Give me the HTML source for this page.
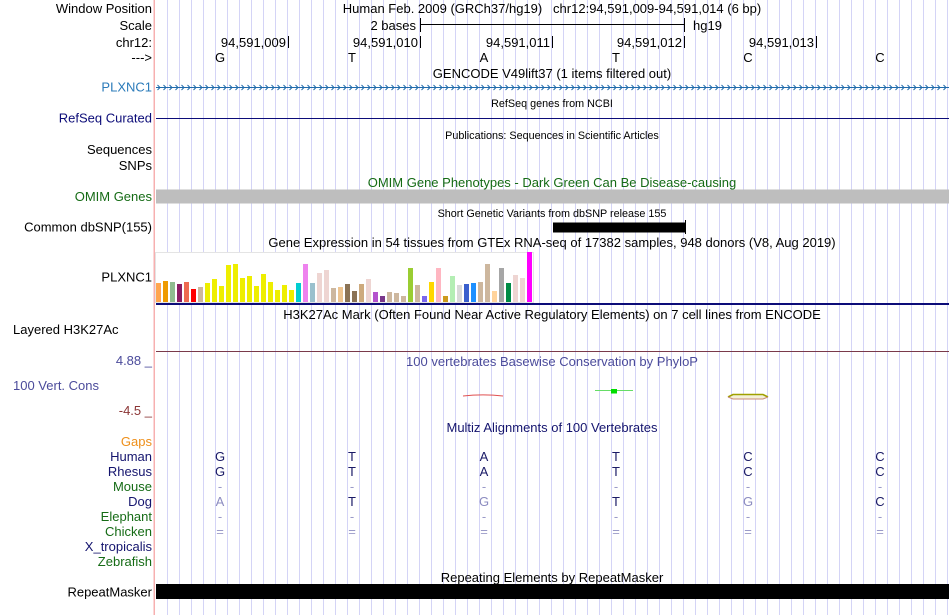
<!DOCTYPE html>
<html><head><meta charset="utf-8"><style>
html,body{margin:0;padding:0;background:#fff;}
svg{display:block;}
text{font-family:"Liberation Sans",Arial,Helvetica,sans-serif;font-size:13px;fill:#000;}
.s{font-size:10.8px;}
.c{text-anchor:middle;}
.r{text-anchor:end;}
</style></head><body>
<svg xmlns="http://www.w3.org/2000/svg" width="950" height="615" viewBox="0 0 950 615">
<rect x="0" y="0" width="950" height="615" fill="#fff"/>
<!-- grid lines -->
<g stroke="#d4d4f6" stroke-width="1">
<line x1="167.5" y1="0" x2="167.5" y2="615"/><line x1="179.5" y1="0" x2="179.5" y2="615"/><line x1="191.5" y1="0" x2="191.5" y2="615"/><line x1="203.5" y1="0" x2="203.5" y2="615"/><line x1="215.5" y1="0" x2="215.5" y2="615"/><line x1="227.5" y1="0" x2="227.5" y2="615"/><line x1="239.5" y1="0" x2="239.5" y2="615"/><line x1="251.5" y1="0" x2="251.5" y2="615"/><line x1="263.5" y1="0" x2="263.5" y2="615"/><line x1="275.5" y1="0" x2="275.5" y2="615"/><line x1="287.5" y1="0" x2="287.5" y2="615"/><line x1="299.5" y1="0" x2="299.5" y2="615"/><line x1="311.5" y1="0" x2="311.5" y2="615"/><line x1="323.5" y1="0" x2="323.5" y2="615"/><line x1="335.5" y1="0" x2="335.5" y2="615"/><line x1="347.5" y1="0" x2="347.5" y2="615"/><line x1="359.5" y1="0" x2="359.5" y2="615"/><line x1="371.5" y1="0" x2="371.5" y2="615"/><line x1="383.5" y1="0" x2="383.5" y2="615"/><line x1="395.5" y1="0" x2="395.5" y2="615"/><line x1="407.5" y1="0" x2="407.5" y2="615"/><line x1="419.5" y1="0" x2="419.5" y2="615"/><line x1="431.5" y1="0" x2="431.5" y2="615"/><line x1="443.5" y1="0" x2="443.5" y2="615"/><line x1="455.5" y1="0" x2="455.5" y2="615"/><line x1="467.5" y1="0" x2="467.5" y2="615"/><line x1="479.5" y1="0" x2="479.5" y2="615"/><line x1="491.5" y1="0" x2="491.5" y2="615"/><line x1="503.5" y1="0" x2="503.5" y2="615"/><line x1="515.5" y1="0" x2="515.5" y2="615"/><line x1="527.5" y1="0" x2="527.5" y2="615"/><line x1="539.5" y1="0" x2="539.5" y2="615"/><line x1="551.5" y1="0" x2="551.5" y2="615"/><line x1="563.5" y1="0" x2="563.5" y2="615"/><line x1="575.5" y1="0" x2="575.5" y2="615"/><line x1="587.5" y1="0" x2="587.5" y2="615"/><line x1="599.5" y1="0" x2="599.5" y2="615"/><line x1="611.5" y1="0" x2="611.5" y2="615"/><line x1="623.5" y1="0" x2="623.5" y2="615"/><line x1="635.5" y1="0" x2="635.5" y2="615"/><line x1="647.5" y1="0" x2="647.5" y2="615"/><line x1="659.5" y1="0" x2="659.5" y2="615"/><line x1="671.5" y1="0" x2="671.5" y2="615"/><line x1="683.5" y1="0" x2="683.5" y2="615"/><line x1="695.5" y1="0" x2="695.5" y2="615"/><line x1="707.5" y1="0" x2="707.5" y2="615"/><line x1="719.5" y1="0" x2="719.5" y2="615"/><line x1="731.5" y1="0" x2="731.5" y2="615"/><line x1="743.5" y1="0" x2="743.5" y2="615"/><line x1="755.5" y1="0" x2="755.5" y2="615"/><line x1="767.5" y1="0" x2="767.5" y2="615"/><line x1="779.5" y1="0" x2="779.5" y2="615"/><line x1="791.5" y1="0" x2="791.5" y2="615"/><line x1="803.5" y1="0" x2="803.5" y2="615"/><line x1="815.5" y1="0" x2="815.5" y2="615"/><line x1="827.5" y1="0" x2="827.5" y2="615"/><line x1="839.5" y1="0" x2="839.5" y2="615"/><line x1="851.5" y1="0" x2="851.5" y2="615"/><line x1="863.5" y1="0" x2="863.5" y2="615"/><line x1="875.5" y1="0" x2="875.5" y2="615"/><line x1="887.5" y1="0" x2="887.5" y2="615"/><line x1="899.5" y1="0" x2="899.5" y2="615"/><line x1="911.5" y1="0" x2="911.5" y2="615"/><line x1="923.5" y1="0" x2="923.5" y2="615"/><line x1="935.5" y1="0" x2="935.5" y2="615"/><line x1="947.5" y1="0" x2="947.5" y2="615"/>
</g>
<!-- left pink divider -->
<rect x="153.5" y="0" width="1.5" height="615" fill="#f7b0b0"/>

<!-- Row: header -->
<text class="r" x="152" y="13">Window Position</text>
<text class="c" x="552" y="13" xml:space="preserve">Human Feb. 2009 (GRCh37/hg19)   chr12:94,591,009-94,591,014 (6 bp)</text>
<text class="r" x="152" y="30">Scale</text>
<text class="r" x="416" y="30">2 bases</text>
<line x1="420" y1="24.5" x2="685" y2="24.5" stroke="#000" stroke-width="1"/>
<line x1="420.5" y1="18" x2="420.5" y2="32" stroke="#000" stroke-width="1"/>
<line x1="684.5" y1="18" x2="684.5" y2="32" stroke="#000" stroke-width="1"/>
<text x="693" y="30">hg19</text>
<text class="r" x="152" y="47">chr12:</text>
<text class="r" x="286" y="47">94,591,009</text>
<text class="r" x="418" y="47">94,591,010</text>
<text class="r" x="550" y="47">94,591,011</text>
<text class="r" x="682" y="47">94,591,012</text>
<text class="r" x="814" y="47">94,591,013</text>
<g stroke="#000" stroke-width="1">
<line x1="288.5" y1="36" x2="288.5" y2="48"/>
<line x1="420.5" y1="36" x2="420.5" y2="48"/>
<line x1="552.5" y1="36" x2="552.5" y2="48"/>
<line x1="684.5" y1="36" x2="684.5" y2="48"/>
<line x1="816.5" y1="36" x2="816.5" y2="48"/>
</g>
<text class="r" x="152" y="62">---&gt;</text>
<text class="c" x="220" y="62">G</text>
<text class="c" x="352" y="62">T</text>
<text class="c" x="484" y="62">A</text>
<text class="c" x="616" y="62">T</text>
<text class="c" x="748" y="62">C</text>
<text class="c" x="880" y="62">C</text>

<!-- GENCODE -->
<text class="c" x="552" y="78">GENCODE V49lift37 (1 items filtered out)</text>
<text class="r" x="152" y="91.5" style="fill:#2b7bba">PLXNC1</text>
<line x1="156" y1="87.5" x2="949" y2="87.5" stroke="#1f6aab" stroke-width="1"/>
<path fill="none" stroke="#1f6aab" stroke-width="1" d="M157.5,85 l2.5,2.5 l-2.5,2.5 M163.5,85 l2.5,2.5 l-2.5,2.5 M169.5,85 l2.5,2.5 l-2.5,2.5 M175.5,85 l2.5,2.5 l-2.5,2.5 M181.5,85 l2.5,2.5 l-2.5,2.5 M187.5,85 l2.5,2.5 l-2.5,2.5 M193.5,85 l2.5,2.5 l-2.5,2.5 M199.5,85 l2.5,2.5 l-2.5,2.5 M205.5,85 l2.5,2.5 l-2.5,2.5 M211.5,85 l2.5,2.5 l-2.5,2.5 M217.5,85 l2.5,2.5 l-2.5,2.5 M223.5,85 l2.5,2.5 l-2.5,2.5 M229.5,85 l2.5,2.5 l-2.5,2.5 M235.5,85 l2.5,2.5 l-2.5,2.5 M241.5,85 l2.5,2.5 l-2.5,2.5 M247.5,85 l2.5,2.5 l-2.5,2.5 M253.5,85 l2.5,2.5 l-2.5,2.5 M259.5,85 l2.5,2.5 l-2.5,2.5 M265.5,85 l2.5,2.5 l-2.5,2.5 M271.5,85 l2.5,2.5 l-2.5,2.5 M277.5,85 l2.5,2.5 l-2.5,2.5 M283.5,85 l2.5,2.5 l-2.5,2.5 M289.5,85 l2.5,2.5 l-2.5,2.5 M295.5,85 l2.5,2.5 l-2.5,2.5 M301.5,85 l2.5,2.5 l-2.5,2.5 M307.5,85 l2.5,2.5 l-2.5,2.5 M313.5,85 l2.5,2.5 l-2.5,2.5 M319.5,85 l2.5,2.5 l-2.5,2.5 M325.5,85 l2.5,2.5 l-2.5,2.5 M331.5,85 l2.5,2.5 l-2.5,2.5 M337.5,85 l2.5,2.5 l-2.5,2.5 M343.5,85 l2.5,2.5 l-2.5,2.5 M349.5,85 l2.5,2.5 l-2.5,2.5 M355.5,85 l2.5,2.5 l-2.5,2.5 M361.5,85 l2.5,2.5 l-2.5,2.5 M367.5,85 l2.5,2.5 l-2.5,2.5 M373.5,85 l2.5,2.5 l-2.5,2.5 M379.5,85 l2.5,2.5 l-2.5,2.5 M385.5,85 l2.5,2.5 l-2.5,2.5 M391.5,85 l2.5,2.5 l-2.5,2.5 M397.5,85 l2.5,2.5 l-2.5,2.5 M403.5,85 l2.5,2.5 l-2.5,2.5 M409.5,85 l2.5,2.5 l-2.5,2.5 M415.5,85 l2.5,2.5 l-2.5,2.5 M421.5,85 l2.5,2.5 l-2.5,2.5 M427.5,85 l2.5,2.5 l-2.5,2.5 M433.5,85 l2.5,2.5 l-2.5,2.5 M439.5,85 l2.5,2.5 l-2.5,2.5 M445.5,85 l2.5,2.5 l-2.5,2.5 M451.5,85 l2.5,2.5 l-2.5,2.5 M457.5,85 l2.5,2.5 l-2.5,2.5 M463.5,85 l2.5,2.5 l-2.5,2.5 M469.5,85 l2.5,2.5 l-2.5,2.5 M475.5,85 l2.5,2.5 l-2.5,2.5 M481.5,85 l2.5,2.5 l-2.5,2.5 M487.5,85 l2.5,2.5 l-2.5,2.5 M493.5,85 l2.5,2.5 l-2.5,2.5 M499.5,85 l2.5,2.5 l-2.5,2.5 M505.5,85 l2.5,2.5 l-2.5,2.5 M511.5,85 l2.5,2.5 l-2.5,2.5 M517.5,85 l2.5,2.5 l-2.5,2.5 M523.5,85 l2.5,2.5 l-2.5,2.5 M529.5,85 l2.5,2.5 l-2.5,2.5 M535.5,85 l2.5,2.5 l-2.5,2.5 M541.5,85 l2.5,2.5 l-2.5,2.5 M547.5,85 l2.5,2.5 l-2.5,2.5 M553.5,85 l2.5,2.5 l-2.5,2.5 M559.5,85 l2.5,2.5 l-2.5,2.5 M565.5,85 l2.5,2.5 l-2.5,2.5 M571.5,85 l2.5,2.5 l-2.5,2.5 M577.5,85 l2.5,2.5 l-2.5,2.5 M583.5,85 l2.5,2.5 l-2.5,2.5 M589.5,85 l2.5,2.5 l-2.5,2.5 M595.5,85 l2.5,2.5 l-2.5,2.5 M601.5,85 l2.5,2.5 l-2.5,2.5 M607.5,85 l2.5,2.5 l-2.5,2.5 M613.5,85 l2.5,2.5 l-2.5,2.5 M619.5,85 l2.5,2.5 l-2.5,2.5 M625.5,85 l2.5,2.5 l-2.5,2.5 M631.5,85 l2.5,2.5 l-2.5,2.5 M637.5,85 l2.5,2.5 l-2.5,2.5 M643.5,85 l2.5,2.5 l-2.5,2.5 M649.5,85 l2.5,2.5 l-2.5,2.5 M655.5,85 l2.5,2.5 l-2.5,2.5 M661.5,85 l2.5,2.5 l-2.5,2.5 M667.5,85 l2.5,2.5 l-2.5,2.5 M673.5,85 l2.5,2.5 l-2.5,2.5 M679.5,85 l2.5,2.5 l-2.5,2.5 M685.5,85 l2.5,2.5 l-2.5,2.5 M691.5,85 l2.5,2.5 l-2.5,2.5 M697.5,85 l2.5,2.5 l-2.5,2.5 M703.5,85 l2.5,2.5 l-2.5,2.5 M709.5,85 l2.5,2.5 l-2.5,2.5 M715.5,85 l2.5,2.5 l-2.5,2.5 M721.5,85 l2.5,2.5 l-2.5,2.5 M727.5,85 l2.5,2.5 l-2.5,2.5 M733.5,85 l2.5,2.5 l-2.5,2.5 M739.5,85 l2.5,2.5 l-2.5,2.5 M745.5,85 l2.5,2.5 l-2.5,2.5 M751.5,85 l2.5,2.5 l-2.5,2.5 M757.5,85 l2.5,2.5 l-2.5,2.5 M763.5,85 l2.5,2.5 l-2.5,2.5 M769.5,85 l2.5,2.5 l-2.5,2.5 M775.5,85 l2.5,2.5 l-2.5,2.5 M781.5,85 l2.5,2.5 l-2.5,2.5 M787.5,85 l2.5,2.5 l-2.5,2.5 M793.5,85 l2.5,2.5 l-2.5,2.5 M799.5,85 l2.5,2.5 l-2.5,2.5 M805.5,85 l2.5,2.5 l-2.5,2.5 M811.5,85 l2.5,2.5 l-2.5,2.5 M817.5,85 l2.5,2.5 l-2.5,2.5 M823.5,85 l2.5,2.5 l-2.5,2.5 M829.5,85 l2.5,2.5 l-2.5,2.5 M835.5,85 l2.5,2.5 l-2.5,2.5 M841.5,85 l2.5,2.5 l-2.5,2.5 M847.5,85 l2.5,2.5 l-2.5,2.5 M853.5,85 l2.5,2.5 l-2.5,2.5 M859.5,85 l2.5,2.5 l-2.5,2.5 M865.5,85 l2.5,2.5 l-2.5,2.5 M871.5,85 l2.5,2.5 l-2.5,2.5 M877.5,85 l2.5,2.5 l-2.5,2.5 M883.5,85 l2.5,2.5 l-2.5,2.5 M889.5,85 l2.5,2.5 l-2.5,2.5 M895.5,85 l2.5,2.5 l-2.5,2.5 M901.5,85 l2.5,2.5 l-2.5,2.5 M907.5,85 l2.5,2.5 l-2.5,2.5 M913.5,85 l2.5,2.5 l-2.5,2.5 M919.5,85 l2.5,2.5 l-2.5,2.5 M925.5,85 l2.5,2.5 l-2.5,2.5 M931.5,85 l2.5,2.5 l-2.5,2.5 M937.5,85 l2.5,2.5 l-2.5,2.5 M943.5,85 l2.5,2.5 l-2.5,2.5"/>

<!-- RefSeq -->
<text class="c s" x="552" y="107">RefSeq genes from NCBI</text>
<text class="r" x="152" y="122.5" style="fill:#0c0c78">RefSeq Curated</text>
<line x1="156" y1="118.5" x2="949" y2="118.5" stroke="#0c0c78" stroke-width="1"/>

<!-- Publications -->
<text class="c s" x="552" y="139">Publications: Sequences in Scientific Articles</text>
<text class="r" x="152" y="154">Sequences</text>
<text class="r" x="152" y="170">SNPs</text>

<!-- OMIM -->
<text class="c" x="552" y="187" style="fill:#156b15">OMIM Gene Phenotypes - Dark Green Can Be Disease-causing</text>
<text class="r" x="152" y="201" style="fill:#156b15">OMIM Genes</text>
<rect x="156" y="189.5" width="793" height="14" fill="#bebebe"/>

<!-- dbSNP -->
<text class="c s" x="552" y="217">Short Genetic Variants from dbSNP release 155</text>
<text class="r" x="152" y="231.5">Common dbSNP(155)</text>
<rect x="553" y="222.5" width="132" height="10" fill="#000"/>
<rect x="685" y="220" width="1" height="14" fill="#000"/>

<!-- GTEx -->
<text class="c" x="552" y="247">Gene Expression in 54 tissues from GTEx RNA-seq of 17382 samples, 948 donors (V8, Aug 2019)</text>
<text class="r" x="152" y="281.5">PLXNC1</text>
<rect x="155.5" y="252.5" width="378" height="50" fill="#fff" stroke="#e4e4e4" stroke-width="1"/>
<g>
<rect x="156" y="283" width="5" height="19" fill="#FFA54F"/>
<rect x="163" y="281" width="5" height="21" fill="#EE9A00"/>
<rect x="170" y="282" width="5" height="20" fill="#8FBC8F"/>
<rect x="177" y="284" width="5" height="18" fill="#8B1C62"/>
<rect x="184" y="282" width="5" height="20" fill="#EE6A50"/>
<rect x="191" y="289" width="5" height="13" fill="#FF0000"/>
<rect x="198" y="287" width="5" height="15" fill="#CDB79E"/>
<rect x="205" y="283" width="5" height="19" fill="#EEEE00"/>
<rect x="212" y="279" width="5" height="23" fill="#EEEE00"/>
<rect x="219" y="286" width="5" height="16" fill="#EEEE00"/>
<rect x="226" y="265" width="5" height="37" fill="#EEEE00"/>
<rect x="233" y="264" width="5" height="38" fill="#EEEE00"/>
<rect x="240" y="278" width="5" height="24" fill="#EEEE00"/>
<rect x="247" y="276" width="5" height="26" fill="#EEEE00"/>
<rect x="254" y="286" width="5" height="16" fill="#EEEE00"/>
<rect x="261" y="274" width="5" height="28" fill="#EEEE00"/>
<rect x="268" y="282" width="5" height="20" fill="#EEEE00"/>
<rect x="275" y="290" width="5" height="12" fill="#EEEE00"/>
<rect x="282" y="285" width="5" height="17" fill="#EEEE00"/>
<rect x="289" y="290" width="5" height="12" fill="#EEEE00"/>
<rect x="296" y="283" width="5" height="19" fill="#00CED1"/>
<rect x="303" y="264" width="5" height="38" fill="#EE82EE"/>
<rect x="310" y="283" width="5" height="19" fill="#9AC0CD"/>
<rect x="317" y="273" width="5" height="29" fill="#EED5D2"/>
<rect x="324" y="270" width="5" height="32" fill="#EED5D2"/>
<rect x="331" y="288" width="5" height="14" fill="#CDB79E"/>
<rect x="338" y="287" width="5" height="15" fill="#EEC591"/>
<rect x="345" y="284" width="5" height="18" fill="#8B7355"/>
<rect x="352" y="291" width="5" height="11" fill="#8B7355"/>
<rect x="359" y="284" width="5" height="18" fill="#CDAA7D"/>
<rect x="366" y="279" width="5" height="23" fill="#EED5D2"/>
<rect x="373" y="292" width="5" height="10" fill="#B452CD"/>
<rect x="380" y="296" width="5" height="6" fill="#7A378B"/>
<rect x="387" y="292" width="5" height="10" fill="#CDB79E"/>
<rect x="394" y="293" width="5" height="9" fill="#CDB79E"/>
<rect x="401" y="296" width="5" height="6" fill="#CDB79E"/>
<rect x="408" y="268" width="5" height="34" fill="#9ACD32"/>
<rect x="415" y="285" width="5" height="17" fill="#CDB79E"/>
<rect x="422" y="296" width="5" height="6" fill="#7A67EE"/>
<rect x="429" y="282" width="5" height="20" fill="#FFD700"/>
<rect x="436" y="268" width="5" height="34" fill="#FFB6C1"/>
<rect x="443" y="296" width="5" height="6" fill="#CD9B1D"/>
<rect x="450" y="276" width="5" height="26" fill="#B4EEB4"/>
<rect x="457" y="285" width="5" height="17" fill="#D9D9D9"/>
<rect x="464" y="284" width="5" height="18" fill="#3A5FCD"/>
<rect x="471" y="283" width="5" height="19" fill="#1E90FF"/>
<rect x="478" y="282" width="5" height="20" fill="#CDB79E"/>
<rect x="485" y="264" width="5" height="38" fill="#CDB79E"/>
<rect x="492" y="291" width="5" height="11" fill="#FFD39B"/>
<rect x="499" y="268" width="5" height="34" fill="#A6A6A6"/>
<rect x="506" y="283" width="5" height="19" fill="#008B45"/>
<rect x="513" y="275" width="5" height="27" fill="#EED5D2"/>
<rect x="520" y="278" width="5" height="24" fill="#EED5D2"/>
<rect x="527" y="252" width="5" height="50" fill="#FF00FF"/>
</g>
<rect x="156" y="303" width="793" height="2" fill="#0c0c78"/>

<!-- H3K27Ac -->
<text class="c" x="552" y="319">H3K27Ac Mark (Often Found Near Active Regulatory Elements) on 7 cell lines from ENCODE</text>
<text x="13" y="334">Layered H3K27Ac</text>
<line x1="156" y1="351.5" x2="949" y2="351.5" stroke="#7a3a4a" stroke-width="1"/>

<!-- PhyloP -->
<text class="c" x="552" y="366" style="fill:#4b4b9b">100 vertebrates Basewise Conservation by PhyloP</text>
<text class="r" x="152" y="365" style="fill:#4b4b9b">4.88 _</text>
<text x="13" y="390" style="fill:#4b4b9b">100 Vert. Cons</text>
<text class="r" x="152" y="415" style="fill:#8b3535">-4.5 _</text>
<path d="M463,396 Q483,393.8 503,396" fill="none" stroke="#e05050" stroke-width="1"/>
<line x1="595" y1="390.5" x2="633" y2="390.5" stroke="#66dd66" stroke-width="1"/>
<rect x="611" y="389" width="6" height="4.5" fill="#00dd00"/>
<polygon points="728,397 733,394.5 763,394.5 768,397 763,399 733,399" fill="#f4f0d8" stroke="none"/>
<polyline points="728,397 733,394.5 763,394.5 768,397" fill="none" stroke="#a0a000" stroke-width="1.6"/>
<polyline points="728,397 733,399 763,399 768,397" fill="none" stroke="#c88a7a" stroke-width="1"/>

<!-- Multiz -->
<text class="c" x="552" y="432" style="fill:#14146e">Multiz Alignments of 100 Vertebrates</text>
<text class="r" x="152" y="446" style="fill:#ee8f1a">Gaps</text>
<text class="r" x="152" y="461" style="fill:#14146e">Human</text>
<text class="r" x="152" y="476" style="fill:#14146e">Rhesus</text>
<text class="r" x="152" y="491" style="fill:#156b15">Mouse</text>
<text class="r" x="152" y="506" style="fill:#14146e">Dog</text>
<text class="r" x="152" y="521" style="fill:#156b15">Elephant</text>
<text class="r" x="152" y="536" style="fill:#156b15">Chicken</text>
<text class="r" x="152" y="551" style="fill:#14146e">X_tropicalis</text>
<text class="r" x="152" y="566" style="fill:#156b15">Zebrafish</text>
<text class="c" x="220" y="461" style="fill:#1a1a66">G</text><text class="c" x="352" y="461" style="fill:#1a1a66">T</text><text class="c" x="484" y="461" style="fill:#1a1a66">A</text><text class="c" x="616" y="461" style="fill:#1a1a66">T</text><text class="c" x="748" y="461" style="fill:#1a1a66">C</text><text class="c" x="880" y="461" style="fill:#1a1a66">C</text>
<text class="c" x="220" y="476" style="fill:#1a1a66">G</text><text class="c" x="352" y="476" style="fill:#1a1a66">T</text><text class="c" x="484" y="476" style="fill:#1a1a66">A</text><text class="c" x="616" y="476" style="fill:#1a1a66">T</text><text class="c" x="748" y="476" style="fill:#1a1a66">C</text><text class="c" x="880" y="476" style="fill:#1a1a66">C</text>
<text class="c" x="220" y="491" style="fill:#9a9ac8">-</text><text class="c" x="352" y="491" style="fill:#9a9ac8">-</text><text class="c" x="484" y="491" style="fill:#9a9ac8">-</text><text class="c" x="616" y="491" style="fill:#9a9ac8">-</text><text class="c" x="748" y="491" style="fill:#9a9ac8">-</text><text class="c" x="880" y="491" style="fill:#9a9ac8">-</text>
<text class="c" x="220" y="506" style="fill:#8c8cc0">A</text><text class="c" x="352" y="506" style="fill:#1a1a66">T</text><text class="c" x="484" y="506" style="fill:#8c8cc0">G</text><text class="c" x="616" y="506" style="fill:#1a1a66">T</text><text class="c" x="748" y="506" style="fill:#8c8cc0">G</text><text class="c" x="880" y="506" style="fill:#1a1a66">C</text>
<text class="c" x="220" y="521" style="fill:#9a9ac8">-</text><text class="c" x="352" y="521" style="fill:#9a9ac8">-</text><text class="c" x="484" y="521" style="fill:#9a9ac8">-</text><text class="c" x="616" y="521" style="fill:#9a9ac8">-</text><text class="c" x="748" y="521" style="fill:#9a9ac8">-</text><text class="c" x="880" y="521" style="fill:#9a9ac8">-</text>
<text class="c" x="220" y="536" style="fill:#9a9ac8">=</text><text class="c" x="352" y="536" style="fill:#9a9ac8">=</text><text class="c" x="484" y="536" style="fill:#9a9ac8">=</text><text class="c" x="616" y="536" style="fill:#9a9ac8">=</text><text class="c" x="748" y="536" style="fill:#9a9ac8">=</text><text class="c" x="880" y="536" style="fill:#9a9ac8">=</text>

<!-- RepeatMasker -->
<text class="c" x="552" y="582">Repeating Elements by RepeatMasker</text>
<text class="r" x="152" y="596.5">RepeatMasker</text>
<rect x="156" y="584" width="793" height="15" fill="#000"/>
</svg>
</body></html>
